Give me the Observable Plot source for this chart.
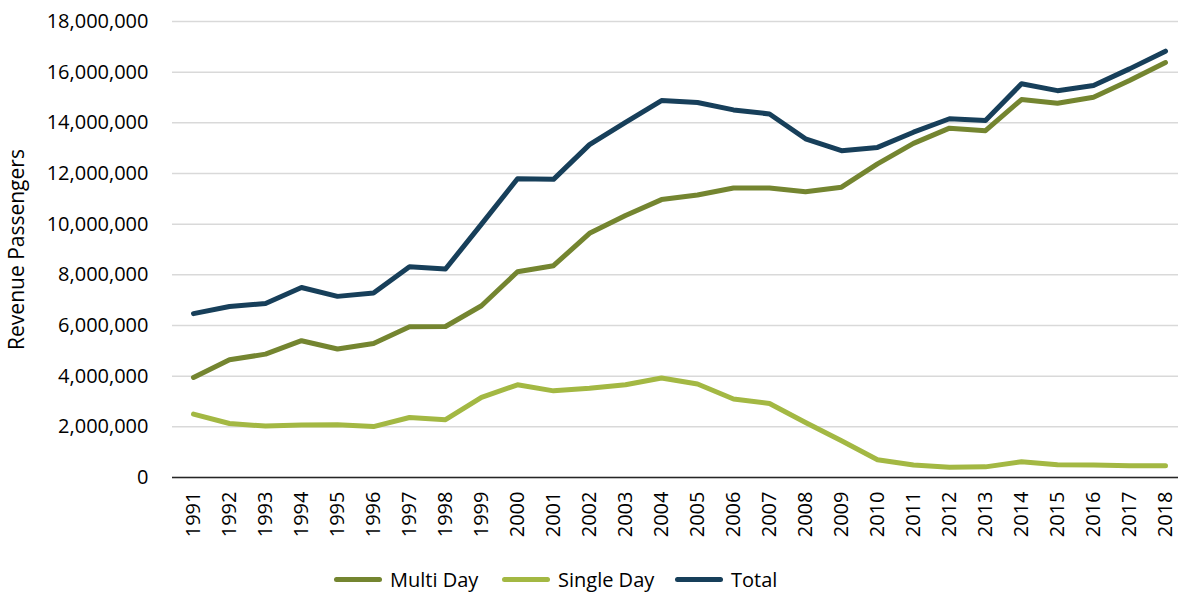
<!DOCTYPE html>
<html>
<head>
<meta charset="utf-8">
<script src="https://cdn.jsdelivr.net/npm/d3@7"></script>
<script src="https://cdn.jsdelivr.net/npm/@observablehq/plot@0.6"></script>
<style>
  body { margin: 0; background: #fff; font-family: "Open Sans", sans-serif; }
  #legend { position: relative; height: 30px; margin-top: 16px; font-size: 20px; color: #000; }
  .item { position: absolute; top: 0; display: flex; align-items: center; }
  .sw { width: 48px; height: 5px; border-radius: 3px; margin-right: 8px; }
</style>
</head>
<body>
<div id="chart"></div>
<div id="legend"></div>
<script>
const years = [1991,1992,1993,1994,1995,1996,1997,1998,1999,2000,2001,2002,2003,2004,2005,2006,2007,2008,2009,2010,2011,2012,2013,2014,2015,2016,2017,2018];
const multiDay = [3950000,4650000,4870000,5400000,5070000,5290000,5950000,5960000,6780000,8120000,8360000,9640000,10340000,10970000,11150000,11430000,11430000,11280000,11460000,12380000,13190000,13790000,13690000,14920000,14770000,15010000,15670000,16380000];
const singleDay = [2500000,2130000,2030000,2070000,2080000,2010000,2370000,2280000,3160000,3660000,3420000,3520000,3660000,3930000,3690000,3100000,2920000,2170000,1450000,700000,490000,400000,420000,620000,500000,490000,460000,460000];
const total = [6470000,6750000,6870000,7500000,7150000,7280000,8320000,8230000,10000000,11790000,11770000,13140000,14020000,14880000,14800000,14510000,14350000,13370000,12900000,13030000,13630000,14160000,14090000,15540000,15270000,15470000,16130000,16830000];
const seriesNames = ["Multi Day", "Single Day", "Total"];
const seriesColors = ["#748530", "#a3b843", "#173f5a"];
const yTicks = [0,2000000,4000000,6000000,8000000,10000000,12000000,14000000,16000000,18000000];
const yLabel = "Revenue Passengers";

const allSeries = [multiDay, singleDay, total];
const data = [];
allSeries.forEach((vals, si) => vals.forEach((v, i) => data.push({year: String(years[i]), value: v, series: seriesNames[si]})));

const fmt = d3.format(",");
const chart = Plot.plot({
  width: 1178,
  height: 550,
  marginTop: 21,
  marginBottom: 73,
  marginLeft: 172,
  marginRight: 0,
  style: {fontFamily: "Open Sans, sans-serif", fontSize: "20px", color: "#000", background: "#fff"},
  x: {type: "point", domain: years.map(String), padding: 0, insetLeft: 18, insetRight: 10, label: null},
  y: {domain: [0, 18000000], label: null},
  color: {domain: seriesNames, range: seriesColors},
  marks: [
    Plot.gridY(yTicks, {stroke: "#d9d9d9", strokeOpacity: 1, strokeWidth: 1.5}),
    Plot.axisY(yTicks, {tickSize: 0, tickPadding: 24, tickFormat: d => d === 0 ? "0" : fmt(d), fontSize: 20, label: null}),
    Plot.text([yLabel], {frameAnchor: "left", textAnchor: "middle", rotate: -90, dx: -155, fontSize: 21, fill: "#000"}),
    Plot.axisX({tickSize: 0, tickPadding: 14, tickRotate: -90, fontSize: 20, label: null}),
    Plot.ruleY([0], {stroke: "#262626", strokeWidth: 1.5}),
    Plot.line(data, {x: "year", y: "value", z: "series", stroke: "series", strokeWidth: 5, strokeLinejoin: "round", strokeLinecap: "round"})
  ]
});
document.getElementById("chart").appendChild(chart);

const legend = document.getElementById("legend");
const legendLeft = [334, 502, 675];
seriesNames.forEach((name, i) => {
  const item = document.createElement("div");
  item.className = "item";
  item.style.left = legendLeft[i] + "px";
  const sw = document.createElement("div");
  sw.className = "sw";
  sw.style.background = seriesColors[i];
  const t = document.createElement("span");
  t.textContent = name;
  item.appendChild(sw);
  item.appendChild(t);
  legend.appendChild(item);
});
</script>
</body>
</html>
